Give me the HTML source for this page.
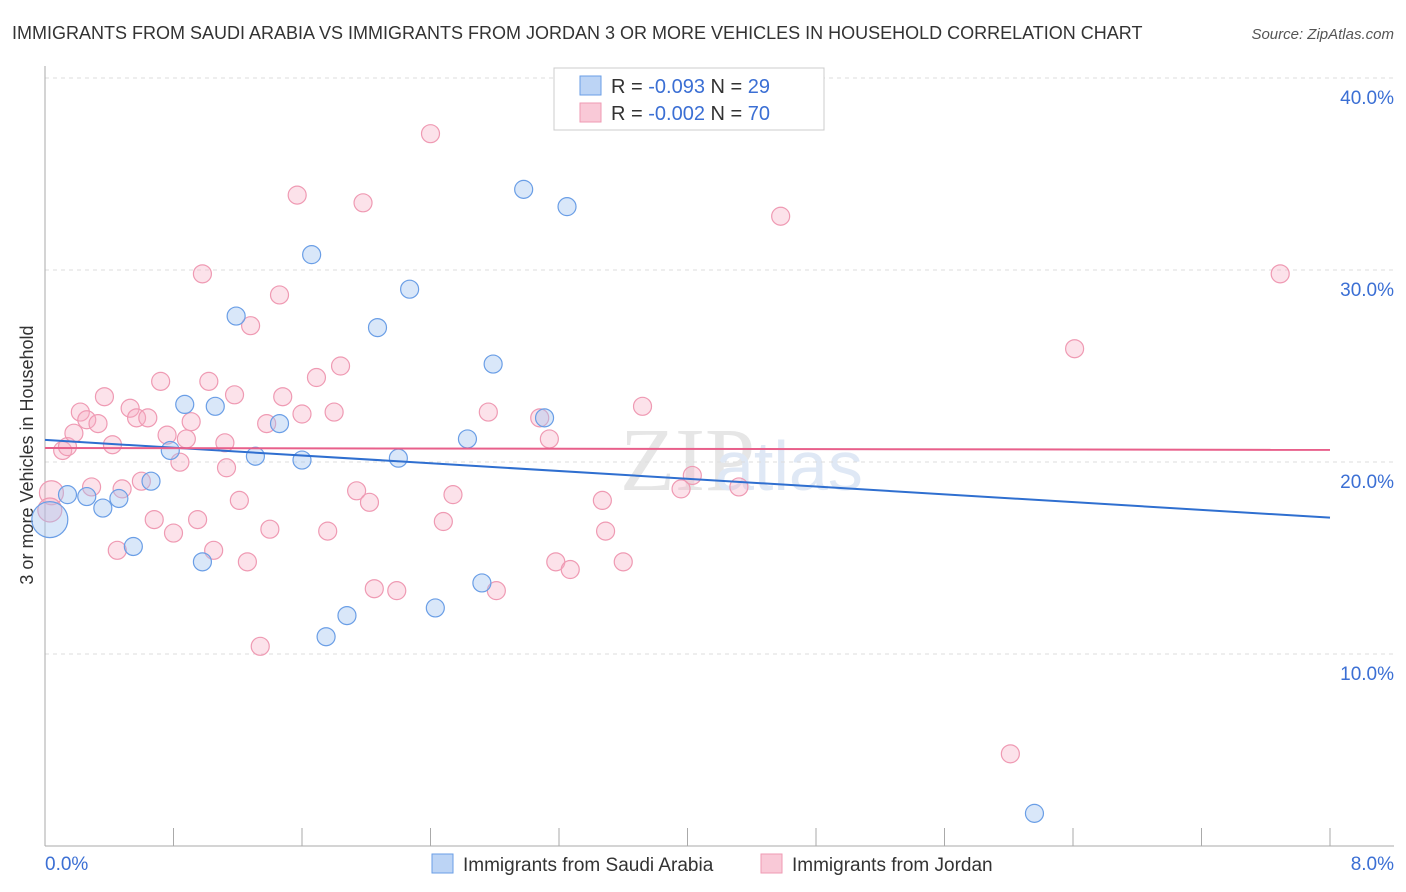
<!DOCTYPE html>
<html><head><meta charset="utf-8"><style>
body{margin:0;background:#fff;font-family:"Liberation Sans",sans-serif;}
svg{display:block}
</style></head><body>
<svg id="chart" width="1406" height="892">
<text x="12" y="39" font-size="18" fill="#333">IMMIGRANTS FROM SAUDI ARABIA VS IMMIGRANTS FROM JORDAN 3 OR MORE VEHICLES IN HOUSEHOLD CORRELATION CHART</text>
<text x="1394" y="39" font-size="15" fill="#555" font-style="italic" text-anchor="end">Source: ZipAtlas.com</text>
<text transform="translate(33,455) rotate(-90)" font-size="18" fill="#333" text-anchor="middle">3 or more Vehicles in Household</text>
<text x="620" y="490" font-size="90" fill="#e6e6e6" font-family="Liberation Serif">ZIP</text>
<text x="715" y="490" font-size="70" fill="#dfe8f5">atlas</text>
<g id="grid"></g><g id="axes"></g><g id="pts"></g><g id="lines"></g>
<g>
<rect x="554" y="68" width="270" height="62" fill="#fff" stroke="#ccc"/>
<rect x="580" y="76" width="21" height="19" fill="#bcd4f5" stroke="#6a9ee6"/>
<rect x="580" y="103" width="21" height="19" fill="#f9c9d7" stroke="#ef9ab3"/>
<text x="611" y="93" font-size="20" fill="#333">R = <tspan fill="#3b6fd4">-0.093</tspan>   N = <tspan fill="#3b6fd4">29</tspan></text>
<text x="611" y="120" font-size="20" fill="#333">R = <tspan fill="#3b6fd4">-0.002</tspan>   N = <tspan fill="#3b6fd4">70</tspan></text>
</g>
<g>
<rect x="432" y="854" width="21" height="19" fill="#bcd4f5" stroke="#6a9ee6"/>
<text x="463" y="871" font-size="19" fill="#333">Immigrants from Saudi Arabia</text>
<rect x="761" y="854" width="21" height="19" fill="#f9c9d7" stroke="#ef9ab3"/>
<text x="792" y="871" font-size="19" fill="#333">Immigrants from Jordan</text>
</g>
</svg>
<script>
const yTicks=[10,20,30,40];
const xTickLabels=["0.0%","8.0%"];
const blueX=[0.03,0.14,0.26,0.36,0.46,0.55,0.66,0.78,0.87,0.98,1.06,1.19,1.31,1.46,1.60,1.66,1.75,1.88,2.07,2.20,2.27,2.43,2.63,2.72,2.79,2.98,3.11,3.25,6.16];
const blueY=[17.0,18.3,18.2,17.6,18.1,15.6,19.0,20.6,23.0,14.8,22.9,27.6,20.3,22.0,20.1,30.8,10.9,12.0,27.0,20.2,29.0,12.4,21.2,13.7,25.1,34.2,22.3,33.3,1.7];
const blueR=[18,9,9,9,9,9,9,9,9,9,9,9,9,9,9,9,9,9,9,9,9,9,9,9,9,9,9,9,9];
const pinkX=[0.04,0.03,0.11,0.14,0.18,0.22,0.26,0.33,0.29,0.37,0.42,0.45,0.48,0.53,0.57,0.60,0.64,0.68,0.72,0.76,0.80,0.84,0.88,0.91,0.95,0.98,1.02,1.05,1.12,1.13,1.18,1.21,1.26,1.28,1.34,1.38,1.40,1.46,1.48,1.57,1.60,1.69,1.76,1.80,1.84,1.94,1.98,2.02,2.05,2.19,2.40,2.48,2.54,2.76,2.81,3.08,3.14,3.18,3.27,3.47,3.49,3.60,3.72,3.96,4.03,4.32,4.58,6.01,6.41,7.69];
const pinkY=[18.4,17.5,20.6,20.8,21.5,22.6,22.2,22.0,18.7,23.4,20.9,15.4,18.6,22.8,22.3,19.0,22.3,17.0,24.2,21.4,16.3,19.99,21.2,22.1,17.0,29.8,24.2,15.4,21.0,19.7,23.5,18.0,14.8,27.1,10.4,22.0,16.5,28.7,23.4,33.9,22.5,24.4,16.4,22.6,25.0,18.5,33.5,17.9,13.4,13.3,37.1,16.9,18.3,22.6,13.3,22.3,21.2,14.8,14.4,18.0,16.4,14.8,22.9,18.6,19.3,18.7,32.8,4.8,25.9,29.8];
const pinkR=pinkX.map((v,i)=>i<2?12:9);
const blueLine=[21.15,17.1];
const pinkLine=[20.73,20.63];
const X0=45,X1=1330,Y0=846;
const sx=v=>X0+(v/8)*(X1-X0);
const sy=v=>Y0-v*19.2;
const NS="http://www.w3.org/2000/svg";
function mk(t,a,p){const e=document.createElementNS(NS,t);for(const k in a)e.setAttribute(k,a[k]);p.appendChild(e);return e;}
const grid=document.getElementById('grid'),axes=document.getElementById('axes'),pts=document.getElementById('pts'),lines=document.getElementById('lines');
yTicks.forEach(t=>{
 const l=mk('line',{x1:X0,x2:1394,y1:sy(t),y2:sy(t),stroke:'#ddd','stroke-dasharray':'4,4'},grid);
 
 
 const tx=mk('text',{x:1394,y:sy(t)+26,'font-size':19,fill:'#3b6fd4','text-anchor':'end'},axes);
 tx.textContent=t.toFixed(1)+'%';
 
 
});
const yl=mk('line',{x1:X0,x2:X0,y1:66,y2:Y0,stroke:'#aaa'},axes);


const xl=mk('line',{x1:X0,x2:1394,y1:Y0,y2:Y0,stroke:'#aaa'},axes);


for(let i=0;i<=10;i++){
 const t=mk('line',{x1:sx(i*0.8),x2:sx(i*0.8),y1:828,y2:Y0,stroke:'#aaa'},axes);
 
 
}
[[0,'start',45],[1,'end',1394]].forEach(([i,a,x])=>{
 const t=mk('text',{x:x,y:870,'font-size':19,fill:'#3b6fd4','text-anchor':a},axes);
 t.textContent=xTickLabels[i];
 
 
});
pinkX.forEach((v,i)=>{
 const c=mk('circle',{cx:sx(v),cy:sy(pinkY[i]),r:pinkR[i],fill:'rgba(246,172,196,0.35)',stroke:'#ef9ab3','stroke-width':1.2},pts);
 
 
});
blueX.forEach((v,i)=>{
 const c=mk('circle',{cx:sx(v),cy:sy(blueY[i]),r:blueR[i],fill:'rgba(160,195,240,0.4)',stroke:'#6a9ee6','stroke-width':1.2},pts);
 
 
});
const bl=mk('line',{x1:X0,x2:X1,y1:sy(blueLine[0]),y2:sy(blueLine[1]),stroke:'#2f6fd0','stroke-width':2},lines);


const pl=mk('line',{x1:X0,x2:X1,y1:sy(pinkLine[0]),y2:sy(pinkLine[1]),stroke:'#e8608b','stroke-width':2},lines);


</script>
</body></html>
